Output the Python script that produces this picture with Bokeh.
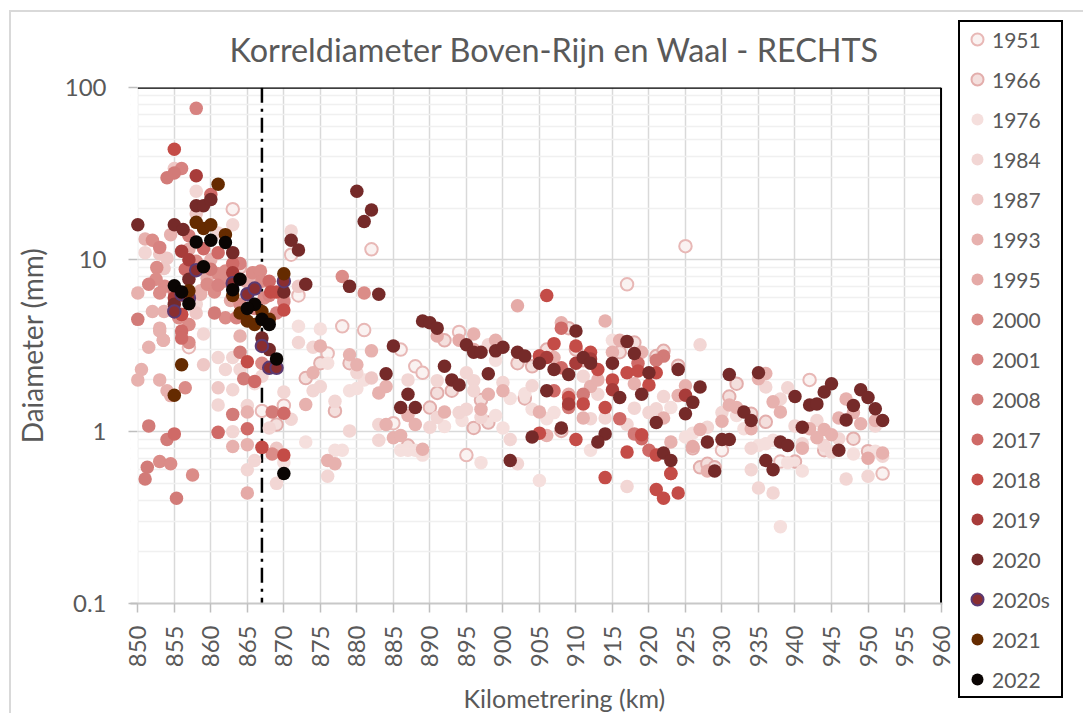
from bokeh.plotting import figure
from bokeh.models import Legend, LegendItem, FixedTicker, BoxAnnotation, Title
from bokeh.embed import file_html
from bokeh.resources import INLINE
import math

TITLE = "Korreldiameter Boven-Rijn en Waal - RECHTS"
X_LABEL = "Kilometrering (km)"
Y_LABEL = "Daiameter (mm)"
x_ticks = list(range(850, 965, 5))
y_ticks = [0.1, 1, 10, 100]
y_tick_labels = {0.1: "0.1", 1: "1", 10: "10", 100: "100"}
y_minor = [a * b for b in (0.1, 1, 10) for a in range(2, 10)]

ref_km = [867, 867]
ref_d = [100, 0.1]
edge_top_km = [850, 960]
edge_top_d = [100, 100]
edge_right_km = [960, 960]
edge_right_d = [100, 0.1]

km_1951 = [863, 871, 882, 872, 925, 917, 878, 881, 885, 894, 886, 888, 889, 895, 930, 942, 952, 938, 857, 870, 876, 867]
d_1951 = [19.7, 10.7, 11.5, 6.2, 12, 7.2, 4.1, 3.9, 1.12, 3.8, 3, 2.4, 2.2, 0.73, 0.78, 2, 0.57, 0.67, 3.1, 1.42, 2.85, 1.32]

km_1966 = [869, 873, 875, 877, 879, 892, 902, 904, 906, 909, 910, 918, 921, 922, 891, 893, 897, 903, 890, 896, 898, 908, 887, 924, 926, 927, 928, 929, 931, 932, 934, 936, 940, 944, 948, 950, 864, 911, 916]
d_1966 = [1.1, 2.05, 2.5, 1.32, 2.5, 3.4, 2.5, 2.4, 3, 4, 3, 3.3, 2.75, 2.95, 1.68, 1.73, 1.53, 1.56, 1.38, 1.05, 1.13, 1.01, 0.83, 2.42, 0.8, 0.62, 0.65, 0.62, 1.6, 1.9, 1.27, 1.14, 0.67, 0.78, 0.91, 0.77, 9, 2.6, 2.9]

km_1976 = [872, 875, 876, 881, 879, 880, 873, 877, 878, 870, 886, 887, 888, 889, 892, 894.4, 899, 900, 901, 903, 899, 897, 905, 904, 907, 906, 912, 923, 926, 925, 932, 933, 935, 936, 937, 938, 939, 941, 948, 951, 915, 860, 866]
d_1976 = [4.1, 3.95, 2.5, 2, 1.73, 1.78, 0.87, 0.78, 0.78, 0.66, 0.78, 0.78, 0.78, 0.73, 1.07, 1.16, 1.24, 1.05, 1.56, 1.66, 2.6, 0.66, 0.52, 1.35, 1.29, 1.19, 0.78, 1.38, 0.98, 0.93, 1.24, 1.04, 0.83, 0.85, 0.89, 0.28, 0.66, 0.59, 0.74, 0.77, 3.4, 8.5, 1.9]

km_1984 = [858, 863, 861, 871, 851, 859, 872, 874, 861, 863, 862, 861, 863, 864, 867, 870, 865, 871, 868, 877, 874, 875, 880, 879, 863, 866, 865, 869, 876, 883, 883, 887, 891, 895, 896, 896, 900, 904, 894, 895, 891, 890, 897, 898, 901, 902, 911, 913, 912, 914, 917, 918, 920, 921, 927, 928, 922, 930, 934, 936, 938, 939, 934, 935, 937, 941, 940, 943, 944, 946, 945, 947, 950, 951, 952, 917, 858, 857]
d_1984 = [25, 16, 14.3, 14.7, 11, 3.7, 3.3, 3.1, 2.7, 2.7, 2.3, 1.43, 1.75, 2.3, 2.1, 1.7, 1.42, 1.18, 1.05, 1.5, 1.73, 1.83, 2.2, 1.01, 1.0, 0.68, 0.6, 0.5, 0.55, 1.1, 0.89, 2, 1.98, 2.2, 1.98, 1.73, 1.93, 1.85, 1.29, 1.35, 1.21, 1.06, 1.21, 3.2, 0.9, 0.65, 2.1, 1.65, 1.19, 1.2, 1.1, 1.37, 1.29, 1.36, 3.2, 1.06, 1.6, 1.29, 0.8, 1.82, 1.55, 1.8, 0.6, 0.47, 0.44, 0.85, 1.08, 1.16, 0.83, 0.91, 0.76, 0.53, 0.55, 1.08, 0.72, 0.48, 5.5, 4.2]

km_1987 = [855, 858, 853, 854, 853.6, 860.4, 872, 858, 859, 861, 869, 882, 857, 856, 866]
d_1987 = [34, 18.5, 10.8, 10.2, 8.9, 6.8, 7, 4.9, 2.45, 1.8, 0.8, 2.05, 8.2, 3.7, 8.4]

km_1993 = [854.5, 851, 860, 858.6, 858.6, 866, 850, 852, 853.6, 853, 853, 853.5, 851.5, 853.5, 864, 850.5, 850, 853, 854, 854.5, 870, 865, 873, 874, 875, 879, 880, 882, 883, 884, 884, 885, 886, 863, 865, 876, 877, 896, 899, 907, 908, 914, 915, 916, 919, 889, 892, 887, 888, 898, 900, 905, 906, 897, 911, 912, 913, 918, 925, 924, 922, 927, 923, 928, 930, 931, 932, 934, 935, 936, 937, 938, 941, 942, 943, 944, 945, 946, 947, 948, 949, 951, 952]
d_1993 = [14, 13.2, 10, 6.6, 6.3, 8, 6.4, 5, 5, 4, 3.85, 3.4, 3.1, 3.4, 3.6, 2.3, 2, 2, 1.73, 1.62, 5.9, 1.3, 1.44, 2.2, 3.15, 2.8, 2.45, 2.95, 1.68, 1.83, 1.1, 0.92, 0.95, 0.82, 0.84, 0.68, 0.65, 3.7, 3.4, 2.7, 4.3, 4.4, 2.9, 3.4, 2.9, 0.79, 1.3, 1.24, 1.1, 1.65, 1.73, 1.3, 0.95, 1.35, 1.2, 1.83, 2, 1.9, 1.85, 1.62, 1.2, 1.03, 0.87, 0.59, 1.15, 1.43, 1.38, 1.04, 2.03, 2.18, 1.49, 1.3, 0.8, 1.04, 0.92, 1.03, 0.96, 1.2, 1.55, 1.29, 1.11, 1.16, 0.75]

km_1995 = [864.8, 862.7, 859.5, 902, 891, 894, 896, 865, 926, 950, 909, 857]
d_1995 = [7.5, 5.8, 7.8, 5.4, 3.6, 3.4, 3.0, 0.44, 0.82, 0.7, 1.65, 11.5]

km_2000 = [852, 852.6, 853.7, 853, 852.5, 856, 857, 855.6, 862, 861, 859.5, 861.7, 862, 865.7, 866.8, 867, 867.3, 864, 853, 854.5, 857.5, 856.5, 857, 867, 868.4, 881, 878, 860.5, 858]
d_2000 = [13, 9, 7, 6.4, 7.7, 6.2, 4.2, 4.6, 4.6, 8.3, 7.2, 7.5, 8.6, 8.4, 8.6, 7.5, 6, 5.5, 0.67, 0.65, 0.56, 1.8, 3.3, 2.5, 0.74, 6.4, 8, 6.5, 9.8]

km_2001 = [856, 858, 861, 864, 866, 869, 851.5, 855, 863.5, 853, 868, 870]
d_2001 = [34, 76, 7.1, 9.5, 5.2, 4.9, 7.2, 6.5, 4.6, 11.8, 6.2, 5.7]

km_2008 = [855, 854, 857, 860.5, 850, 851.5, 854, 851.3, 851, 855.3, 868.4, 864.5, 911, 909, 918, 922, 921, 860, 856, 864, 863]
d_2008 = [32, 30, 13.8, 4.9, 4.5, 1.08, 0.9, 0.62, 0.53, 0.41, 1.3, 2.03, 1.65, 1.38, 0.97, 2.75, 2.6, 8.8, 4.8, 2.9, 1.26]

km_2017 = [860, 861, 859, 863, 868, 856, 856, 855, 861, 865, 866, 908, 908, 907, 916, 919, 920, 923, 918.5, 905, 856.5, 870]
d_2017 = [24, 11, 11.6, 9.5, 7.5, 3.85, 3.5, 0.97, 0.99, 1.04, 1.96, 4, 2.35, 1.73, 1.19, 0.91, 0.78, 0.57, 2.5, 2.75, 8.8, 1.28]

km_2018 = [855, 868.2, 869, 870, 865, 867, 870, 906, 907, 910, 912, 913, 915, 917, 918.5, 921, 920, 909, 911, 914, 919, 905, 914, 917, 921, 922, 910, 905, 924, 923, 921, 856]
d_2018 = [44, 6.5, 6.5, 5.1, 2.55, 0.81, 0.73, 6.2, 3.25, 3.15, 2.9, 2.3, 2, 2.2, 2.25, 2.2, 1.87, 1.58, 1.45, 1.38, 0.96, 0.98, 0.54, 0.76, 0.46, 0.41, 0.9, 2.75, 0.44, 0.57, 0.73, 4.8]

km_2019 = [858, 856, 857, 863, 855, 909, 912, 915, 925, 910, 906]
d_2019 = [30.8, 11.2, 10, 8.4, 6, 1.45, 2.65, 1.75, 1.63, 2.5, 2.7]

km_2020 = [850, 855, 856.2, 858, 859, 860, 857, 863, 871, 872, 880, 882, 881, 879, 883, 873, 870, 855, 867, 868, 885, 884, 886, 887, 888, 889, 890, 891, 892, 893, 894, 895, 896, 897, 898, 899, 900, 902, 903, 905, 907, 909, 910, 911, 912, 915, 917, 918, 920, 922, 923, 919, 916, 914, 913, 921, 908, 906, 904, 901, 924, 927, 926, 925, 929, 928, 930, 931, 931, 933, 934, 935, 936, 937, 938, 939, 940, 941, 942, 943, 944, 945, 946, 947, 948, 949, 950, 951, 952]
d_2020 = [16, 16, 15, 20.6, 20.6, 22.4, 7.7, 11, 13, 11.4, 25, 19.5, 16.7, 7, 6.3, 7.2, 6.5, 5.5, 3.5, 3, 3.15, 2.17, 1.38, 1.65, 1.38, 4.4, 4.3, 4, 2.4, 2, 1.87, 3.2, 2.9, 2.9, 2.17, 2.95, 3.1, 2.9, 2.75, 2.5, 2.3, 2.15, 3.85, 2.7, 2.5, 2.5, 3.35, 2.85, 2.2, 0.75, 0.68, 1.65, 1.58, 0.97, 0.87, 1.13, 1.05, 1.73, 0.93, 0.68, 2.3, 1.82, 1.48, 1.27, 0.59, 0.87, 0.9, 2.15, 0.9, 1.3, 1.16, 2.2, 0.68, 0.6, 0.87, 0.83, 1.6, 1.06, 1.43, 1.45, 1.7, 1.9, 0.78, 1.17, 1.42, 1.75, 1.58, 1.36, 1.16]

km_2020s = [858, 855, 856, 857, 863, 865, 866, 870, 867, 868, 869]
d_2020s = [8.7, 5, 6.3, 6, 7.3, 6.3, 6.8, 7.5, 3.15, 2.35, 2.35]

km_2021 = [861, 858, 859, 860, 862, 857, 863, 864, 865, 866, 867, 868, 870, 856, 855]
d_2021 = [27.5, 16.5, 15.2, 16, 14, 6.6, 6.2, 4.9, 4.4, 4.2, 5, 4.5, 8.3, 2.45, 1.63]

km_2022 = [858, 860, 862, 859, 855, 856, 857, 864, 863, 866, 865, 867, 868, 869, 870]
d_2022 = [12.7, 13, 12.6, 9.1, 7.05, 6.5, 5.55, 7.7, 6.7, 5.5, 5.2, 4.5, 4.2, 2.65, 0.57]

series_names = ["1951", "1966", "1976", "1984", "1987", "1993", "1995", "2000", "2001", "2008",
                "2017", "2018", "2019", "2020", "2020s", "2021", "2022"]
series_km = [km_1951, km_1966, km_1976, km_1984, km_1987, km_1993, km_1995, km_2000, km_2001, km_2008,
             km_2017, km_2018, km_2019, km_2020, km_2020s, km_2021, km_2022]
series_d = [d_1951, d_1966, d_1976, d_1984, d_1987, d_1993, d_1995, d_2000, d_2001, d_2008,
            d_2017, d_2018, d_2019, d_2020, d_2020s, d_2021, d_2022]
fills = ["#faf2f1", "#f4dfdd", "#f5dfdd", "#f2d6d4", "#eec8c6", "#e7b1ae", "#e5aaa7", "#db8c88", "#d78280",
         "#d27b78", "#cf6a67", "#c44c47", "#a83c3a", "#752a29", "#8a2e30", "#652b00", "#0a0503"]
lines = ["#e8b8b6", "#e3aeac", None, None, None, None, None, None, None,
         None, None, None, None, None, "#5b3a72", None, None]
FONT = "Lato"
GREY = "#595959"

p = figure(width=1072, height=701, frame_width=812, frame_height=516,
           x_range=(849, 960.2), y_range=(0.1, 100.5), y_axis_type="log",
           min_border_left=119, min_border_top=75, min_border_right=20, min_border_bottom=98,
           output_backend="svg", toolbar_location=None, background_fill_color="white",
           border_fill_color="white", outline_line_color=None,
           styles={"margin-left": "9px", "margin-top": "10px", "border-left": "2px solid #d9d9d9",
                   "border-top": "2px solid #d9d9d9"})

p.add_layout(Title(text=TITLE, align="left", vertical_align="top", offset=99, standoff=34, text_font=FONT,
                   text_font_size="32.4px", text_font_style="normal", text_color=GREY), "above")

p.xaxis.ticker = FixedTicker(ticks=x_ticks)
p.yaxis.ticker = FixedTicker(ticks=y_ticks, minor_ticks=y_minor)
p.yaxis.major_label_overrides = y_tick_labels
p.xaxis.major_label_orientation = math.pi / 2

for ax in (p.xaxis[0], p.yaxis[0]):
    ax.major_label_text_font = FONT
    ax.major_label_text_font_size = "24px"
    ax.major_label_text_color = GREY
    ax.axis_label_text_font = FONT
    ax.axis_label_text_font_size = "28px"
    ax.axis_label_text_font_style = "normal"
    ax.axis_label_text_color = GREY
    ax.minor_tick_line_color = None
    ax.major_tick_line_color = "#bfbfbf"
    ax.major_tick_line_width = 1.5
p.yaxis.axis_label = Y_LABEL
p.xaxis.axis_line_color = "#c8c8c8"
p.xaxis.axis_line_width = 2
p.yaxis.axis_line_color = None
p.xaxis.major_tick_in = 0
p.xaxis.major_tick_out = 9
p.yaxis.major_tick_in = 7
p.yaxis.major_tick_out = 2
p.yaxis.major_label_standoff = 20
p.xaxis.major_label_standoff = 13
p.yaxis.axis_label_standoff = 13

p.add_layout(Title(text=X_LABEL, align="left", offset=333, standoff=20, text_font=FONT, text_font_size="25px",
                   text_font_style="normal", text_color=GREY), "below")

p.xgrid.grid_line_color = "#d9d9d9"
p.xgrid.grid_line_width = 1.5
p.ygrid.grid_line_color = "#d9d9d9"
p.ygrid.grid_line_width = 1.5
p.ygrid.minor_grid_line_color = "#f0f0f0"
p.ygrid.minor_grid_line_width = 1.5

# hide the grid left of km 850
p.add_layout(BoxAnnotation(right=850, fill_color="white", fill_alpha=1, line_color=None, level="underlay"))

# black top and right plot edges
p.line(edge_top_km, edge_top_d, line_color="black", line_width=2)
p.line(edge_right_km, edge_right_d, line_color="black", line_width=2)

p.line(ref_km, ref_d, line_color="black", line_width=2.5, line_dash="15 6 3 6")

items = []
for name, km, d, f, l in zip(series_names, series_km, series_d, fills, lines):
    r = p.scatter(km, d, size=13.5 if l is None else 12.5, marker="circle", fill_color=f,
                  line_color=l, line_width=2 if l else 0)
    items.append(LegendItem(label=name, renderers=[r]))

legend = Legend(items=items, location=(16, -95), orientation="vertical", glyph_width=30, glyph_height=30,
                label_height=20, label_width=67, spacing=10, padding=2, margin=0, label_standoff=-3,
                label_text_font=FONT, label_text_font_size="21px", label_text_color=GREY,
                border_line_color="black", border_line_width=2, border_line_alpha=1,
                background_fill_color="white", background_fill_alpha=1)
p.add_layout(legend, "right")

open("out.html", "w").write(file_html(p, INLINE))
